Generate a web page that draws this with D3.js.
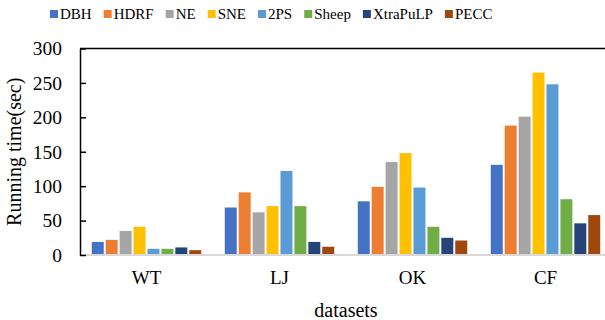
<!DOCTYPE html>
<html>
<head>
<meta charset="utf-8">
<script src="https://cdn.jsdelivr.net/npm/d3@7"></script>
<style>
  html, body { margin: 0; padding: 0; background: #fff; }
  svg { display: block; }
  svg text { font-family: 'Liberation Serif', 'Times New Roman', 'DejaVu Serif', serif; fill: #000; }
</style>
</head>
<body>
<svg id="chart" width="605" height="320"></svg>
<script>
// Running time (seconds) of each partitioner on each dataset
const datasets = ["WT", "LJ", "OK", "CF"];
const partitioners = ["DBH", "HDRF", "NE", "SNE", "2PS", "Sheep", "XtraPuLP", "PECC"];
const DBH      = [19, 69, 78, 131];
const HDRF     = [22, 91, 99, 188];
const NE       = [35, 62, 135, 201];
const SNE      = [41, 71, 148, 265];
const TWO_PS   = [9, 122, 98, 248];
const Sheep    = [9, 71, 41, 81];
const XtraPuLP = [11, 19, 25, 46];
const PECC     = [7, 12, 21, 58];
const yTicks = [0, 50, 100, 150, 200, 250, 300];
const colors = ["#4472C4", "#ED7D31", "#A5A5A5", "#FFC000", "#5B9BD5", "#70AD47", "#264478", "#9E480E"];

const seriesValues = [DBH, HDRF, NE, SNE, TWO_PS, Sheep, XtraPuLP, PECC];
const rows = datasets.map((d, i) => ({
  dataset: d,
  values: partitioners.map((p, j) => ({ key: p, value: seriesValues[j][i] }))
}));

const svg = d3.select("#chart");
const plotLeft = 80, plotRight = 612, plotTop = 48.5, plotBottom = 255;

const x0 = d3.scaleBand().domain(datasets).range([plotLeft, plotRight])
  .paddingInner(0.177).paddingOuter(0.0885);
const x1 = d3.scaleBand().domain(partitioners).range([0, x0.bandwidth()]).paddingInner(0.14);
const y = d3.scaleLinear().domain([0, 300]).range([plotBottom, plotTop]);
const color = d3.scaleOrdinal().domain(partitioners).range(colors);

// bars
const groups = svg.append("g").selectAll("g").data(rows).join("g")
  .attr("transform", d => `translate(${x0(d.dataset)},0)`);
groups.selectAll("rect").data(d => d.values).join("rect")
  .attr("x", d => x1(d.key))
  .attr("y", d => y(d.value))
  .attr("width", x1.bandwidth())
  .attr("height", d => y(0) - y(d.value))
  .attr("fill", d => color(d.key));

// baseline
svg.append("line")
  .attr("x1", plotLeft).attr("x2", 605)
  .attr("y1", y(0)).attr("y2", y(0))
  .attr("stroke", "#d9d9d9").attr("stroke-width", 2);

// top border
svg.append("line")
  .attr("x1", plotLeft).attr("x2", 605)
  .attr("y1", y(300)).attr("y2", y(300))
  .attr("stroke", "#000").attr("stroke-width", 1.5);

// left axis with inward ticks
const yAxis = d3.axisLeft(y).tickValues(yTicks).tickSizeInner(-6).tickSizeOuter(0).tickPadding(18);
const gy = svg.append("g").attr("transform", `translate(${plotLeft},0)`).call(yAxis)
  .attr("font-family", null).attr("font-size", null);
gy.select(".domain").attr("stroke", "#000").attr("stroke-width", 1.5);
gy.selectAll(".tick line").attr("stroke", "#000").attr("stroke-width", 1.5);
gy.selectAll(".tick text").style("font-size", "19.5px");

// category labels
const xAxis = d3.axisBottom(x0).tickSize(0).tickPadding(16);
const gx = svg.append("g").attr("transform", `translate(0,${plotBottom})`).call(xAxis)
  .attr("font-family", null).attr("font-size", null);
gx.select(".domain").remove();
gx.selectAll(".tick text").style("font-size", "19px");

// axis titles
svg.append("text")
  .attr("x", (plotLeft + plotRight) / 2).attr("y", 317)
  .attr("text-anchor", "middle").style("font-size", "20px")
  .text("datasets");
svg.append("text")
  .attr("transform", `translate(21,${(plotTop + plotBottom) / 2}) rotate(-90)`)
  .attr("text-anchor", "middle").style("font-size", "20px")
  .text("Running time(sec)");

// legend
const legend = svg.append("g").attr("transform", "translate(50,14)");
let lx = 0;
partitioners.forEach(p => {
  const item = legend.append("g").attr("transform", `translate(${lx},0)`);
  item.append("rect").attr("x", 0).attr("y", -4).attr("width", 8).attr("height", 8).attr("fill", color(p));
  const t = item.append("text").attr("x", 10).attr("y", 0).attr("dy", "0.35em")
    .style("font-size", "15px").text(p);
  lx += 10 + t.node().getComputedTextLength() + 12;
});
</script>
</body>
</html>
